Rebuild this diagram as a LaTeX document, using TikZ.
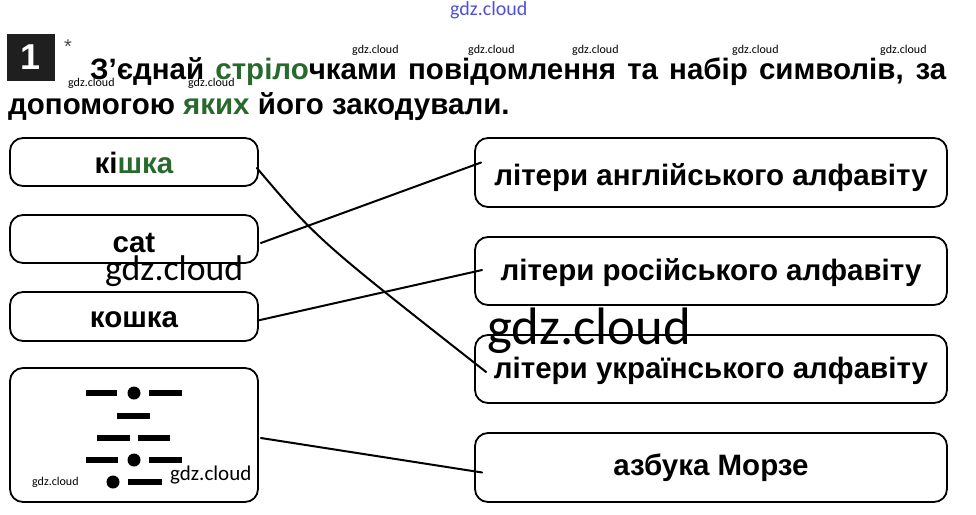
\documentclass[tikz,border=0pt]{standalone}
\usepackage{fontspec}
\setmainfont{Liberation Sans}
\newfontfamily\wmfont{Carlito}
\usetikzlibrary{calc}
\definecolor{grn}{RGB}{40,105,45}
\definecolor{wmblue}{RGB}{80,80,215}
\tikzset{
  box/.style={draw, line width=1.8pt, rounded corners=13pt, inner sep=0pt,
    font=\fontsize{29.5}{31}\selectfont\bfseries, text depth=0pt},
  lbox/.style={box, minimum width=248pt},
  rbox/.style={box, minimum width=472pt},
  conn/.style={line width=2pt, line cap=round},
  mdash/.style={line width=5.5pt},
  wm/.style={anchor=base west, inner sep=0pt, font=\wmfont\fontsize{#1}{#1}\selectfont},
  title/.style={anchor=base west, inner sep=0pt, font=\fontsize{29.5}{31}\selectfont\bfseries}
}
\begin{document}
\begin{tikzpicture}[x=1pt,y=-1pt]
\useasboundingbox (0,0) rectangle (976,514);
% header
\node[fill=black!88, minimum width=48pt, minimum height=47pt, inner sep=0pt,
  text=white, font=\fontsize{36}{36}\selectfont\bfseries] (num) at (31,57) {1};
\node[inner sep=0pt, font=\fontsize{20}{20}\selectfont, text=black!70] (star) at (68,47) {*};
\node[title] (t1) at (90,79) {\makebox[856pt][s]{З’єднай \textcolor{grn}{стріло}чками повідомлення та набір символів, за}};
\node[title] (t2) at (8,114) {допомогою \textcolor{grn}{яких} його закодували.};
% left boxes
\node[lbox, minimum height=48pt, text height=22pt] (kishka) at (134,162) {кі\textcolor{grn}{шка}};
\node[lbox, minimum height=48pt, text height=26pt] (cat) at (134,239) {cat};
\node[lbox, minimum height=49pt, text height=21pt] (koshka) at (134,316.5) {кошка};
\node[lbox, minimum height=134pt] (morse) at (134,435) {};
% morse code
\draw[mdash] (86,393) -- (117,393) (149,393) -- (182,393);
\fill (134,393) circle[radius=6.5pt];
\draw[mdash] (117,416) -- (150,416);
\draw[mdash] (97,438) -- (130,438) (138,438) -- (170,438);
\draw[mdash] (86,460) -- (118,460) (149,460) -- (182,460);
\fill (134,460) circle[radius=6.5pt];
\fill (113,482) circle[radius=6.5pt];
\draw[mdash] (128,482) -- (162,482);
% right boxes
\node[rbox, minimum height=69pt, text height=25pt] (angl) at (711,172.5) {літери англійського алфавіту};
\node[rbox, minimum height=68pt, text height=18pt] (ros) at (711,271) {літери російського алфавіту};
\node[rbox, minimum height=68pt, text height=18pt] (ukr) at (711,369) {літери українського алфавіту};
\node[rbox, minimum height=69pt, text height=15pt] (azb) at (711,467.5) {азбука Морзе};
% connectors
\draw[conn] ($(kishka.east)+(-2,6)$) .. controls (318,240) .. ($(ukr.west)+(12,3)$);
\draw[conn] ($(cat.east)+(2,4)$) -- ($(angl.west)+(7,-10)$);
\draw[conn] ($(koshka.east)+(-1,4)$) -- ($(ros.west)+(8,-1)$);
\draw[conn] ($(morse.east)+(2,3)$) -- ($(azb.west)+(8,5)$);
% watermarks
\node[wm=20, text=wmblue] (w0) at (450,16) {gdz.cloud};
\node[wm=12] (w1) at (352,53) {gdz.cloud};
\node[wm=12] (w2) at (468,53) {gdz.cloud};
\node[wm=12] (w3) at (572,53) {gdz.cloud};
\node[wm=12] (w4) at (732,53) {gdz.cloud};
\node[wm=12] (w5) at (880,53) {gdz.cloud};
\node[wm=12] (w6) at (68,86) {gdz.cloud};
\node[wm=12] (w7) at (188,86) {gdz.cloud};
\node[wm=35.7] (w8) at (105,280) {gdz.cloud};
\node[wm=52.7] (w9) at (487,344) {gdz.cloud};
\node[wm=21] (w10) at (170,480) {gdz.cloud};
\node[wm=12] (w11) at (32,485) {gdz.cloud};
\end{tikzpicture}
\end{document}
